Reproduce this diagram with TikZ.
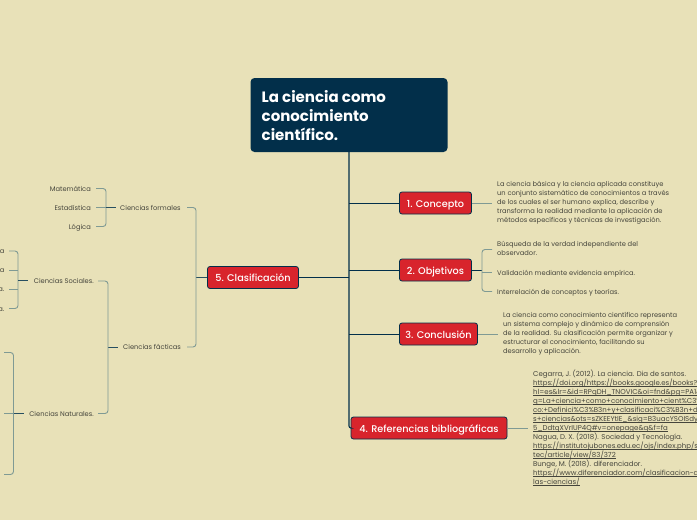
\documentclass[tikz,border=0pt]{standalone}
\usepackage{fontspec}
\setmainfont{Poppins}
\newfontfamily\medfont{Poppins Medium}
\definecolor{bg}{HTML}{E8E1B8}
\definecolor{navy}{HTML}{022F4A}
\definecolor{redbox}{HTML}{D8242C}
\definecolor{ink}{HTML}{45453C}
\definecolor{branch}{HTML}{7F9A94}
\newcommand\linkline[1]{\setbox0\hbox{#1}\rlap{\rule[-1.3pt]{\wd0}{0.35pt}}\box0}
\tikzset{
 x=1pt,y=-1pt,
 rootbox/.style={fill=navy,rounded corners=4pt,minimum width=197pt,minimum height=74pt,inner sep=0pt,text=white},
 topic/.style={fill=redbox,draw=navy,line width=0.8pt,rounded corners=2.5pt,minimum height=22pt,inner sep=0pt,text=white,text height=10pt,text depth=2pt,font=\fontsize{9.7}{12}\selectfont\medfont},
 para/.style={inner sep=0pt,text=ink,font=\fontsize{6.7}{9}\selectfont,align=left,anchor=north west},
 leaf/.style={inner sep=0pt,text=ink,font=\fontsize{6.7}{9}\selectfont,text height=7pt,text depth=1.5pt},
 leafr/.style={leaf,anchor=east},
 leafl/.style={leaf,anchor=west},
 trunk/.style={draw=navy,line width=1.1pt,rounded corners=2pt},
 thin/.style={draw=navy,line width=0.8pt},
 soft/.style={draw=branch,line width=0.9pt,rounded corners=3pt},
 stub/.style={draw=navy!70!branch,line width=0.9pt},
}
\begin{document}
\begin{tikzpicture}
\useasboundingbox (0,0) rectangle (697,520);
\clip (0,0) rectangle (697,520);
\fill[bg] (0,0) rectangle (697,520);
% root and topics
\node[rootbox] (root) at (349,115) {};
\node[anchor=north west,inner sep=0pt,text=white,align=left,font=\fontsize{15}{19}\selectfont\bfseries] (roottext) at (261.5,90.5) {La ciencia como\\conocimiento\\científico.};
\node[topic,minimum width=72pt] (t1) at (435.5,203) {1. Concepto};
\node[topic,minimum width=72pt] (t2) at (435.5,270) {2. Objetivos};
\node[topic,minimum width=78pt] (t3) at (438.5,334) {3. Conclusión};
\node[topic,minimum width=156pt] (t4) at (429,428) {4. Referencias bibliográficas};
\node[topic,minimum width=91pt] (t5) at (253,277.5) {5. Clasificación};
% trunk
\coordinate (tj) at (349,428);
\draw[trunk] (root.south -| tj) -- (tj) -- (t4.west);
\draw[thin] (349,203) -- (t1.west);
\draw[thin] (349,270) -- (t2.west);
\draw[thin] (349,334) -- (t3.west);
\draw[thin] (349,277.5) -- (t5.east);
% right leaves
\node[para] (c1) at (497,181) {La ciencia básica y la ciencia aplicada constituye\\un conjunto sistemático de conocimientos a través\\de los cuales el ser humano explica, describe y\\transforma la realidad mediante la aplicación de\\métodos específicos y técnicas de investigación.};
\coordinate (c1a) at (492,203);
\draw[soft] (t1.east) -- (c1a);
\node[para] (o1) at (497,241) {Búsqueda de la verdad independiente del\\observador.};
\node[leafl] (o2) at (497,272.5) {Validación mediante evidencia empírica.};
\node[leafl] (o3) at (497,291.5) {Interrelación de conceptos y teorías.};
\coordinate (o1a) at (492,249.5);
\coordinate (o2a) at (492,272.5);
\coordinate (o3a) at (492,291.5);
\coordinate (ob) at (482,270);
\draw[thin] (t2.east) -- (ob);
\draw[soft] (o1a) -- (ob |- o1a) -- (ob |- o3a) -- (o3a);
\draw[soft] (ob |- o2a) -- (o2a);
\node[para] (k1) at (503,312) {La ciencia como conocimiento científico representa\\un sistema complejo y dinámico de comprensión\\de la realidad. Su clasificación permite organizar y\\estructurar el conocimiento, facilitando su\\desarrollo y aplicación.};
\coordinate (k1a) at (498,334);
\draw[soft] (t3.east) -- (k1a);
\node[para,font=\fontsize{7}{9}\selectfont] (r1) at (533,369.5) {Cegarra, J. (2012). La ciencia. Dia de santos.\\
\linkline{https://doi.org/https://books.google.es/books?}\\
\linkline{hl=es\&lr=\&id=RPqDH\_TNOVIC\&oi=fnd\&pg=PA1\&dq=}\\
\linkline{q=La+ciencia+como+conocimiento+cient\%C3\%ADfi}\\
\linkline{co:+Definici\%C3\%B3n+y+clasificaci\%C3\%B3n+de+la}\\
\linkline{s+ciencias\&ots=sZKEEYtIE\_\&sig=B3uacYSOISdy}\\
\linkline{5\_DdtqXVrIUP4Q\#v=onepage\&q\&f=fa}\\
Nagua, D. X. (2018). Sociedad y Tecnología.\\
\linkline{https://institutojubones.edu.ec/ojs/index.php/soc}\\
\linkline{tec/article/view/83/372}\\
Bunge, M. (2018). diferenciador.\\
\linkline{https://www.diferenciador.com/clasificacion-de-}\\
\linkline{las-ciencias/}};
\coordinate (r1a) at (528,428);
\draw[soft] (t4.east) -- (r1a);
% left: classification
\node[leafl] (cf) at (120,207.5) {Ciencias formales};
\node[leafl] (cx) at (123,347) {Ciencias fácticas};
\draw[thin,draw=navy!70!branch] (t5.west) -- (196,277.5);
\draw[soft] (187,207.5) -- (196,207.5) -- (196,347) -- (187,347);
% formales
\node[leafr] (m1) at (91,188.5) {Matemática};
\node[leafr] (m2) at (91,207.5) {Estadística};
\node[leafr] (m3) at (91,226.5) {Lógica};
\draw[soft] (96,188.5) -- (106,188.5) -- (106,226.5) -- (96,226.5);
\draw[soft] (96,207.5) -- (106,207.5);
\draw[stub] (106,207.5) -- (116,207.5);
% facticas
\draw[stub] (108,347) -- (118,347);
\node[leafr] (s0) at (94,281) {Ciencias Sociales.};
\node[leafr] (n0) at (94,413.5) {Ciencias Naturales.};
\draw[soft] (98,281) -- (108,281) -- (108,413.5) -- (98,413.5);
% sociales
\node[leafr] (s1) at (4.5,251) {ía};
\node[leafr] (s2) at (4.5,270) {ía};
\node[leafr] (s3) at (4.5,289) {ía.};
\node[leafr] (s4) at (4.5,308.5) {ía.};
\draw[soft] (9,251) -- (18,251) -- (18,308.5) -- (9,308.5);
\draw[soft] (9,270) -- (18,270);
\draw[soft] (9,289) -- (18,289);
\draw[stub] (18,280) -- (28,280);
% naturales
\draw[soft] (4,352.5) -- (13.5,352.5) -- (13.5,474.5) -- (4,474.5);
\draw[soft] (4,413.5) -- (13.5,413.5);
\draw[stub] (13.5,413.5) -- (24,413.5);
\end{tikzpicture}
\end{document}
